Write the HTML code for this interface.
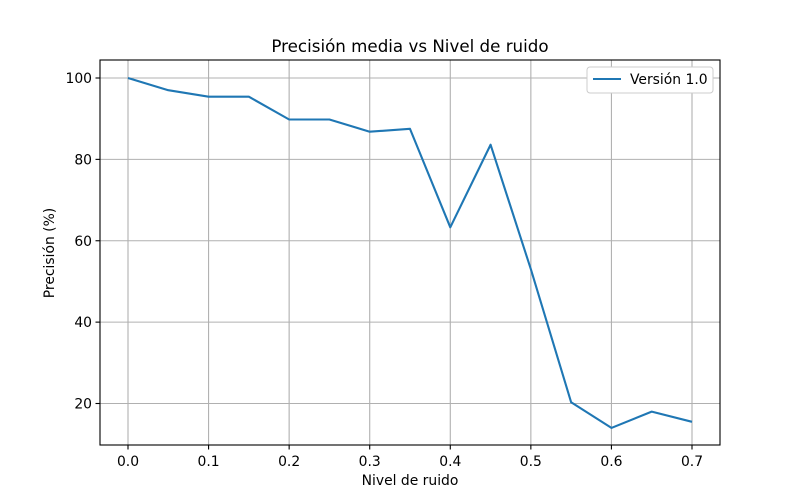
<!DOCTYPE html>
<html><head><meta charset="utf-8"><style>
body{margin:0;background:#fff;}
svg{display:block;font-family:"DejaVu Sans","Liberation Sans",sans-serif;}
</style></head><body>
<svg id="chart" width="800" height="500">
<rect width="800" height="500" fill="#fff"/>
<text x="410" y="52" text-anchor="middle" font-size="16.7">Precisión media vs Nivel de ruido</text>
<g id="grid"></g>
<g id="ticks"></g>
<rect x="100" y="60" width="620" height="385" fill="none" stroke="#000" stroke-width="1.1"/>
<polyline id="line" fill="none" stroke="#1f77b4" stroke-width="2.1" stroke-linejoin="round"/>
<text x="410" y="485" text-anchor="middle" font-size="13.9">Nivel de ruido</text>
<text transform="translate(54,253) rotate(-90)" text-anchor="middle" font-size="13.9">Precisión (%)</text>
<g>
<rect x="587" y="67" width="126" height="26" rx="3" fill="#fff" stroke="#ccc"/>
<line x1="593" y1="79" x2="621" y2="79" stroke="#1f77b4" stroke-width="2.1"/>
<text x="630" y="84" font-size="13.9">Versión 1.0</text>
</g>
</svg>
<script>
const xValues=[0,0.05,0.1,0.15,0.2,0.25,0.3,0.35,0.4,0.45,0.5,0.55,0.6,0.65,0.7];
const yValues=[100,97,95.4,95.4,89.8,89.8,86.8,87.5,63.3,83.6,53,20.3,14,18,15.5];
const xTicks=[0,0.1,0.2,0.3,0.4,0.5,0.6,0.7];
const xTickLabels=["0.0","0.1","0.2","0.3","0.4","0.5","0.6","0.7"];
const yTicks=[20,40,60,80,100];
const yTickLabels=["20","40","60","80","100"];
const NS="http://www.w3.org/2000/svg";
function xs(v){return 128+v*(692-128)/0.7;}
function ys(v){return 403.5-(v-20)*(403.5-78)/80;}
const grid=document.getElementById('grid'),ticks=document.getElementById('ticks');
function mk(tag,attrs,parent){const e=document.createElementNS(NS,tag);for(const k in attrs)e.setAttribute(k,attrs[k]);parent.appendChild(e);return e;}
xTicks.forEach((t,i)=>{const x=xs(t);
 const g=mk('line',{x1:x,x2:x,y1:60,y2:445,stroke:'#b0b0b0','stroke-width':1.1},grid);
 
 
 const tk=mk('line',{x1:x,x2:x,y1:445,y2:449.5,stroke:'#000','stroke-width':1.1},ticks);
 
 
 const tx=mk('text',{x:x,y:466,'text-anchor':'middle','font-size':13.9},ticks);tx.textContent=xTickLabels[i];
 
 
});
yTicks.forEach((t,i)=>{const y=ys(t);
 const g=mk('line',{x1:100,x2:720,y1:y,y2:y,stroke:'#b0b0b0','stroke-width':1.1},grid);
 
 
 const tk=mk('line',{x1:95.5,x2:100,y1:y,y2:y,stroke:'#000','stroke-width':1.1},ticks);
 
 
 const tx=mk('text',{x:92,y:y+5,'text-anchor':'end','font-size':13.9},ticks);tx.textContent=yTickLabels[i];
 
 
});
document.getElementById('line').setAttribute('points',xValues.map((x,i)=>xs(x)+','+ys(yValues[i])).join(' '));
</script>
</body></html>
